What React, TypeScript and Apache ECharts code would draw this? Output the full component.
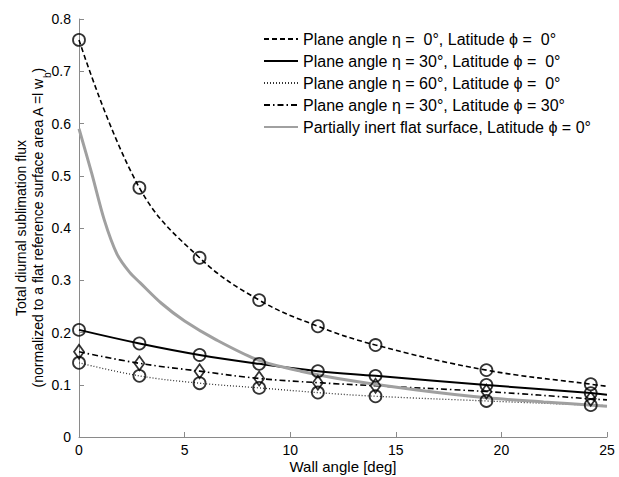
import React, { useEffect, useRef } from "react";
import * as echarts from "echarts";

// marker positions (wall angle, deg)
const markerX = [0, 2.86, 5.71, 8.53, 11.31, 14.04, 19.29, 24.23];
const eta0Markers = [0.760, 0.477, 0.343, 0.262, 0.212, 0.176, 0.128, 0.101];
const eta30Markers = [0.205, 0.179, 0.157, 0.140, 0.126, 0.117, 0.0995, 0.084];
const eta60Markers = [0.142, 0.117, 0.103, 0.094, 0.085, 0.078, 0.069, 0.061];
const eta30lat30Markers = [0.163, 0.141, 0.126, 0.112, 0.104, 0.098, 0.087, 0.073];

// curves
const curveX = [0, 2.86, 5.71, 8.53, 11.31, 14.04, 19.29, 24.23, 25];
const eta0CurveY = [0.760, 0.477, 0.343, 0.262, 0.212, 0.176, 0.128, 0.101, 0.097];
const eta30CurveY = [0.205, 0.179, 0.157, 0.140, 0.126, 0.117, 0.0995, 0.084, 0.081];
const eta60CurveY = [0.142, 0.117, 0.103, 0.094, 0.085, 0.078, 0.069, 0.061, 0.060];
const eta30lat30CurveY = [0.163, 0.141, 0.126, 0.112, 0.104, 0.098, 0.087, 0.073, 0.071];
const grayX = [0, 0.6, 1.2, 1.8, 2.4, 2.9, 3.9, 5.0, 6.5, 8.5, 10.5, 13, 16, 19.3, 22, 25];
const grayY = [0.59, 0.505, 0.415, 0.35, 0.315, 0.295, 0.256, 0.222, 0.186, 0.147, 0.126, 0.107, 0.090, 0.075, 0.067, 0.059];

const seriesNames = [
  "Plane angle \u03B7 =  0\u00B0, Latitude \u03D5 =  0\u00B0",
  "Plane angle \u03B7 = 30\u00B0, Latitude \u03D5 =  0\u00B0",
  "Plane angle \u03B7 = 60\u00B0, Latitude \u03D5 =  0\u00B0",
  "Plane angle \u03B7 = 30\u00B0, Latitude \u03D5 = 30\u00B0",
  "Partially inert flat surface, Latitude \u03D5 = 0\u00B0",
];

const zip = (xs: number[], ys: number[]) => xs.map((x, i) => [x, ys[i]]);

const FONT = "'Liberation Sans', Arial, sans-serif";

export default function App() {
  const ref = useRef<HTMLDivElement>(null);
  useEffect(() => {
    document.body.style.margin = "0";
    if (!ref.current) return;
    const chart = echarts.init(ref.current, undefined, { renderer: "svg" });
    const lineBase = { type: "line", symbol: "none", smooth: 0.4, z: 2 } as any;
    const markerBase = {
      type: "scatter",
      symbolSize: 12,
      itemStyle: { color: "transparent", borderColor: "#000", borderWidth: 1.8 },
      z: 3,
    } as any;
    chart.setOption({
      animation: false,
      textStyle: { fontFamily: FONT },
      grid: { left: 79, right: 12, top: 19, bottom: 40, containLabel: false, outerBoundsMode: "none" },
      legend: {
        data: seriesNames,
        orient: "vertical",
        left: 263,
        top: 31,
        padding: 0,
        itemWidth: 34,
        itemHeight: 14,
        itemGap: 6,
        itemStyle: { opacity: 0 },
        textStyle: { fontSize: 16, lineHeight: 16, color: "#000", fontFamily: FONT },
        selectedMode: false,
      },
      xAxis: {
        type: "value",
        min: 0,
        max: 25,
        interval: 5,
        name: "Wall angle [deg]",
        nameLocation: "middle",
        nameGap: 22,
        nameMoveOverlap: false,
        nameTextStyle: { fontSize: 15, color: "#000" },
        axisLine: { lineStyle: { color: "#8a8a8a", width: 1 } },
        axisTick: { inside: true, length: 5, lineStyle: { color: "#8a8a8a" } },
        axisLabel: { fontSize: 14, color: "#000", margin: 6 },
        splitLine: { show: false },
      },
      yAxis: {
        type: "value",
        min: 0,
        max: 0.8,
        interval: 0.1,
        name: "Total diurnal sublimation flux\n(normalized to a flat reference surface area A =l w{sub|b})",
        nameLocation: "middle",
        nameGap: 33,
        nameMoveOverlap: false,
        nameTextStyle: {
          fontSize: 14,
          color: "#000",
          lineHeight: 17,
          rich: {
            sub: { fontSize: 10, verticalAlign: "bottom", lineHeight: 17, padding: [0, 0, -6, 0] },
          },
        },
        axisLine: { show: true, lineStyle: { color: "#8a8a8a", width: 1 } },
        axisTick: { show: true, inside: true, length: 5, lineStyle: { color: "#8a8a8a" } },
        axisLabel: { fontSize: 14, color: "#000", margin: 8, formatter: (v: number) => (v === 0 ? "0" : v.toFixed(1)) },
        splitLine: { show: false },
      },
      series: [
        { ...lineBase, name: seriesNames[0], data: zip(curveX, eta0CurveY), itemStyle: { color: "#000" }, lineStyle: { color: "#000", width: 1.6, type: [5, 3] } },
        { ...lineBase, name: seriesNames[1], data: zip(curveX, eta30CurveY), itemStyle: { color: "#000" }, lineStyle: { color: "#000", width: 2 } },
        { ...lineBase, name: seriesNames[2], data: zip(curveX, eta60CurveY), itemStyle: { color: "#333" }, lineStyle: { color: "#333", width: 1.3, type: [1, 2] } },
        { ...lineBase, name: seriesNames[3], data: zip(curveX, eta30lat30CurveY), itemStyle: { color: "#000" }, lineStyle: { color: "#000", width: 1.6, type: [6, 3, 1.5, 3] } },
        { ...lineBase, name: seriesNames[4], data: zip(grayX, grayY), smooth: 0.3, itemStyle: { color: "#a0a0a0" }, lineStyle: { color: "#a0a0a0", width: 3 } },
        { ...markerBase, name: "m0", symbol: "circle", data: zip(markerX, eta0Markers) },
        { ...markerBase, name: "m1", symbol: "circle", data: zip(markerX, eta30Markers) },
        { ...markerBase, name: "m2", symbol: "circle", data: zip(markerX, eta60Markers) },
        { ...markerBase, name: "m3", symbol: "diamond", symbolSize: [10, 14], data: zip(markerX, eta30lat30Markers) },
      ],
    });
    return () => chart.dispose();
  }, []);
  return <div ref={ref} style={{ width: 619, height: 477, background: "#fff" }} />;
}
